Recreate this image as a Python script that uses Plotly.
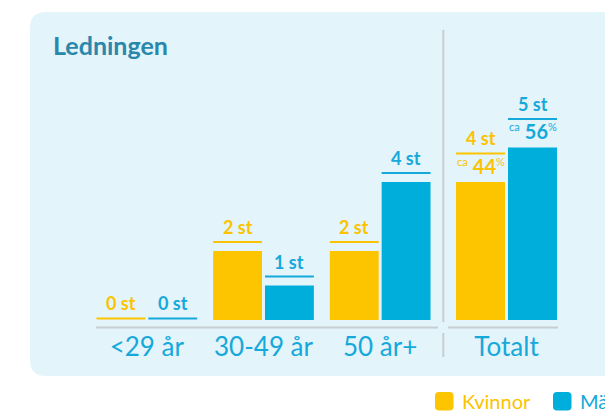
import plotly.graph_objects as go

# ---------------- data ----------------
categories = ["<29 år", "30-49 år", "50 år+"]
total_category = ["Totalt"]
series_names = ["Kvinnor", "Män"]
women = [0, 2, 2]
men = [0, 1, 4]
women_total = [4]
men_total = [5]
women_total_pct = [44]
men_total_pct = [56]
title_text = "Ledningen"
unit = "st"

# ---------------- style ----------------
W, H = 605, 412
YELLOW = "#FDC500"
BLUE = "#00AEDB"
TXT_Y = "#FBC300"
TXT_B = "#14A9DA"
TITLE_C = "#2A87AC"
PANEL = "#E3F4FA"
GRAY = "#C8CED2"
FONT = "Lato"

BAR_W = 0.4188
OFFSETS = [-0.4316, 0.0128]
COLORS = [YELLOW, BLUE]
TXT_COLORS = [TXT_Y, TXT_B]


def px(x):
    return x / W


def py(y):
    return 1 - y / H


def P(x, y):
    return f"{px(x):.5f},{py(y):.5f}"


def rr_path(x0, y0, x1, y1, r):
    return (f"M{P(x0 + r, y0)} L{P(x1 - r, y0)} Q{P(x1, y0)} {P(x1, y0 + r)} "
            f"L{P(x1, y1 - r)} Q{P(x1, y1)} {P(x1 - r, y1)} L{P(x0 + r, y1)} "
            f"Q{P(x0, y1)} {P(x0, y1 - r)} L{P(x0, y0 + r)} Q{P(x0, y0)} {P(x0 + r, y0)} Z")


fig = go.Figure()

for si, vals in enumerate([women, men]):
    fig.add_trace(go.Bar(x=categories, y=vals, name=series_names[si], xaxis="x", yaxis="y",
                         width=BAR_W, offset=OFFSETS[si], marker=dict(color=COLORS[si], line=dict(width=0)),
                         showlegend=False, hoverinfo="skip"))
for si, vals in enumerate([women_total, men_total]):
    fig.add_trace(go.Bar(x=total_category, y=vals, name=series_names[si], xaxis="x2", yaxis="y",
                         width=BAR_W, offset=OFFSETS[si], marker=dict(color=COLORS[si], line=dict(width=0)),
                         showlegend=False, hoverinfo="skip"))

shapes = []
annotations = []

# background panel
shapes.append(dict(type="path", xref="paper", yref="paper", path=rr_path(30, 12, 680, 376, 16),
                   fillcolor=PANEL, line=dict(width=0), layer="below"))


def add_labels(xref, vals, si, pcts=None):
    color = TXT_COLORS[si]
    for i, v in enumerate(vals):
        x0 = i + OFFSETS[si]
        xc = x0 + BAR_W / 2
        if pcts is not None:
            gap = 28.5
        else:
            gap = 9 if v > 0 else 1.5
        shapes.append(dict(type="line", xref=xref, yref="y", x0=x0, x1=x0 + BAR_W,
                           ysizemode="pixel", yanchor=v, y0=gap, y1=gap,
                           line=dict(color=color, width=2)))
        annotations.append(dict(xref=xref, yref="y", x=xc, y=v, yanchor="bottom", xanchor="center",
                                yshift=gap + (2 if v > 0 else 3), showarrow=False,
                                text=f"<b>{v} {unit}</b>",
                                font=dict(family=FONT, size=18, color=color)))
        if pcts is not None:
            annotations.append(dict(xref=xref, yref="y", x=xc, y=v, yanchor="bottom", xanchor="center",
                                    yshift=2, showarrow=False,
                                    text=(f"<sup><span style='font-size:11px'>ca</span></sup> "
                                          f"<b>{pcts[i]}</b><sup><span style='font-size:11px'>%</span></sup>"),
                                    font=dict(family=FONT, size=20, color=color)))


add_labels("x", women, 0)
add_labels("x", men, 1)
add_labels("x2", women_total, 0, women_total_pct)
add_labels("x2", men_total, 1, men_total_pct)

# axis base lines
for a, b in [(96, 438), (448, 558)]:
    shapes.append(dict(type="line", xref="paper", yref="paper", x0=px(a), x1=px(b),
                       y0=py(327.5), y1=py(327.5), line=dict(color=GRAY, width=2)))
# divider
for a, b in [(30, 322), (333, 357)]:
    shapes.append(dict(type="line", xref="paper", yref="paper", x0=px(443.3), x1=px(443.3),
                       y0=py(a), y1=py(b), line=dict(color=GRAY, width=2)))

# legend
leg_x = [435, 553]
for si, name in enumerate(series_names):
    x0 = leg_x[si]
    shapes.append(dict(type="path", xref="paper", yref="paper",
                       path=rr_path(x0, 392, x0 + 18.5, 410.5, 4),
                       fillcolor=COLORS[si], line=dict(width=0)))
    annotations.append(dict(xref="paper", yref="paper", x=px(x0 + 26), y=py(401),
                            xanchor="left", yanchor="middle", showarrow=False, text=name,
                            borderpad=0,
                            font=dict(family=FONT, size=20, color=TXT_COLORS[si])))

fig.update_layout(
    width=W, height=H,
    margin=dict(l=0, r=0, t=0, b=0),
    paper_bgcolor="white", plot_bgcolor="rgba(0,0,0,0)",
    barmode="overlay",
    title=dict(text=f"<b>{title_text}</b>", x=px(53), xref="paper", xanchor="left",
               y=py(37), yref="paper", yanchor="top",
               font=dict(family=FONT, size=25, color=TITLE_C)),
    xaxis=dict(domain=[px(88.5), px(438.5)], range=[-0.5, 2.5], type="category",
               showgrid=False, showline=False, zeroline=False, ticks="",
               tickfont=dict(family=FONT, size=26, color=TXT_B), ticklabelstandoff=9, anchor="y"),
    xaxis2=dict(domain=[px(448), px(565)], range=[-0.5, 0.5], type="category",
                showgrid=False, showline=False, zeroline=False, ticks="",
                tickfont=dict(family=FONT, size=26, color=TXT_B), ticklabelstandoff=9, anchor="y"),
    yaxis=dict(domain=[py(320), py(44)], range=[0, 8], visible=False, fixedrange=True),
    shapes=shapes,
    annotations=annotations,
    showlegend=False,
)

fig.write_html("out.html", config={"displayModeBar": False},
               post_script="document.body.style.margin='0';document.body.style.overflow='hidden';")
